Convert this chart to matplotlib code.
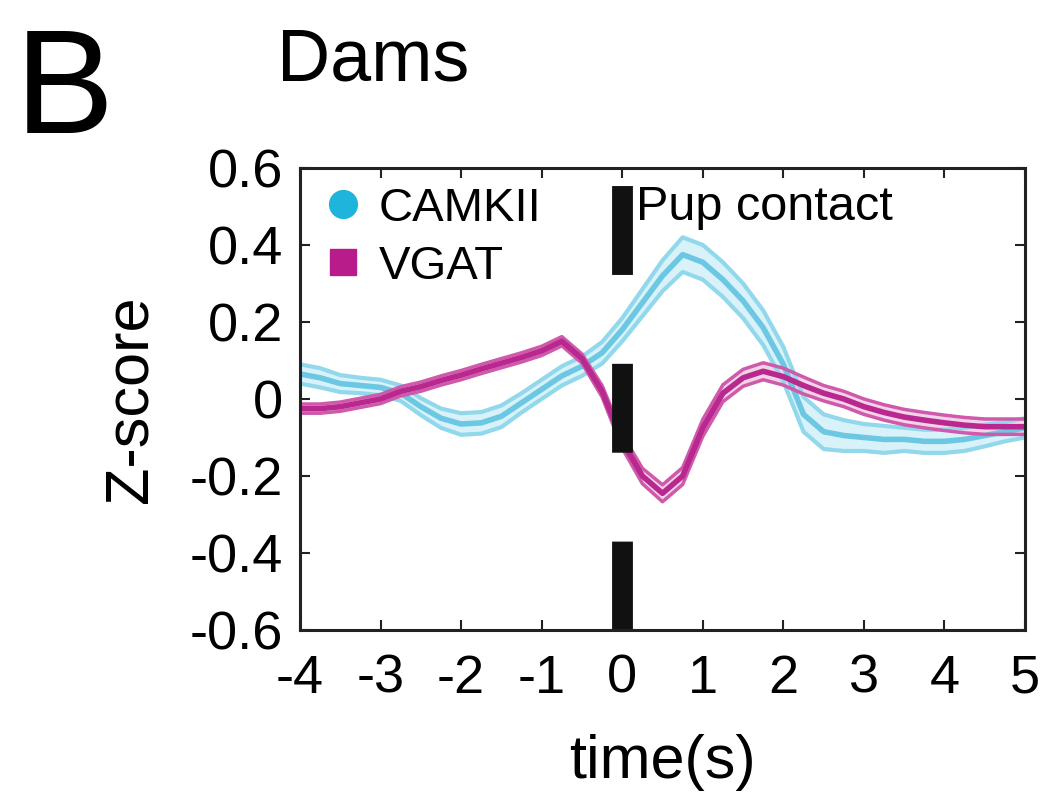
import numpy as np
import matplotlib
matplotlib.use("Agg")
import matplotlib.pyplot as plt
from matplotlib.lines import Line2D

plt.rcParams['font.family'] = ['Liberation Sans', 'DejaVu Sans']
plt.rcParams['axes.unicode_minus'] = False
plt.rcParams['lines.scale_dashes'] = False

# tiempo (s) relativo al contacto con la cria
t = np.array([-4.00, -3.75, -3.50, -3.25, -3.00, -2.75, -2.50, -2.25, -2.00,
              -1.75, -1.50, -1.25, -1.00, -0.75, -0.50, -0.25, 0.00, 0.25,
              0.50, 0.75, 1.00, 1.25, 1.50, 1.75, 2.00, 2.25, 2.50, 2.75,
              3.00, 3.25, 3.50, 3.75, 4.00, 4.25, 4.50, 4.75, 5.00])

# CAMKII: media y error estandar
camkii_mean = np.array([0.065, 0.055, 0.040, 0.035, 0.030, 0.015, -0.020, -0.050,
                        -0.065, -0.062, -0.045, -0.010, 0.025, 0.060, 0.085, 0.120,
                        0.180, 0.250, 0.320, 0.375, 0.355, 0.310, 0.255, 0.185,
                        0.090, -0.040, -0.085, -0.095, -0.100, -0.105, -0.105,
                        -0.110, -0.110, -0.105, -0.095, -0.085, -0.075])
camkii_sem = np.array([0.025, 0.025, 0.022, 0.020, 0.020, 0.020, 0.022, 0.025,
                       0.028, 0.028, 0.028, 0.025, 0.025, 0.025, 0.025, 0.028,
                       0.030, 0.035, 0.040, 0.045, 0.045, 0.045, 0.045, 0.045,
                       0.045, 0.045, 0.045, 0.040, 0.035, 0.035, 0.030, 0.030,
                       0.030, 0.030, 0.028, 0.025, 0.025])

# VGAT: media y error estandar
vgat_mean = np.array([-0.025, -0.025, -0.020, -0.010, 0.000, 0.020, 0.032, 0.048,
                      0.062, 0.078, 0.093, 0.108, 0.125, 0.150, 0.105, 0.020,
                      -0.110, -0.200, -0.245, -0.200, -0.075, 0.015, 0.055, 0.072,
                      0.058, 0.035, 0.015, 0.000, -0.020, -0.035, -0.047, -0.055,
                      -0.062, -0.068, -0.072, -0.072, -0.072])
vgat_sem = np.array([0.012, 0.012, 0.012, 0.012, 0.012, 0.012, 0.012, 0.012,
                     0.012, 0.012, 0.012, 0.012, 0.012, 0.012, 0.012, 0.015,
                     0.018, 0.020, 0.022, 0.022, 0.022, 0.022, 0.022, 0.022,
                     0.022, 0.022, 0.020, 0.020, 0.020, 0.020, 0.020, 0.020,
                     0.020, 0.020, 0.020, 0.020, 0.020])

xticks = [-4, -3, -2, -1, 0, 1, 2, 3, 4, 5]
yticks = [0.6, 0.4, 0.2, 0, -0.2, -0.4, -0.6]
ytick_labels = ['0.6', '0.4', '0.2', '0', '-0.2', '-0.4', '-0.6']

c_cam = '#6cc8e2'
c_cam_band = '#92d8ec'
c_cam_mark = '#1fb4dc'
c_vg = '#b8288f'
c_vg_band = '#cf5aab'
c_vg_mark = '#b81c8a'

fig = plt.figure(figsize=(10.45, 8.01), dpi=100)
ax = fig.add_axes([0.2871, 0.2135, 0.6938, 0.5768])

# bandas de error (SEM) y media
ax.fill_between(t, camkii_mean - camkii_sem, camkii_mean + camkii_sem,
                color='#d9f2f9', lw=0)
ax.plot(t, camkii_mean + camkii_sem, color=c_cam_band, lw=3)
ax.plot(t, camkii_mean - camkii_sem, color=c_cam_band, lw=3)
ax.plot(t, camkii_mean, color=c_cam, lw=4)

ax.fill_between(t, vgat_mean - vgat_sem, vgat_mean + vgat_sem,
                color='#f2d3e8', lw=0)
ax.plot(t, vgat_mean + vgat_sem, color=c_vg_band, lw=2.5)
ax.plot(t, vgat_mean - vgat_sem, color=c_vg_band, lw=2.5)
ax.plot(t, vgat_mean, color=c_vg, lw=4)

# linea de contacto
ax.plot([0, 0], [-0.6, 0.6], color='#111111', lw=15, dashes=(64, 64),
        solid_capstyle='butt', dash_capstyle='butt')
ax.text(0.17, 0.465, 'Pup contact', fontsize=35, va='baseline', ha='left')

handles = [Line2D([], [], ls='none', marker='o', ms=20, color=c_cam_mark,
                  mec=c_cam_mark),
           Line2D([], [], ls='none', marker='s', ms=19, color=c_vg_mark,
                  mec=c_vg_mark)]
ax.legend(handles, ['CAMKII', 'VGAT'], loc='upper left', frameon=False,
          fontsize=34, handlelength=0.6, handletextpad=0.45,
          labelspacing=0.3, borderaxespad=0.0,
          bbox_to_anchor=(0.014, 1.0))

ax.set_xlim(-4, 5)
ax.set_ylim(-0.6, 0.6)
ax.set_xticks(xticks)
ax.set_xticklabels([str(v) for v in xticks])
ax.set_yticks(yticks)
ax.set_yticklabels(ytick_labels)
ax.tick_params(direction='in', length=7, width=1.5, labelsize=39,
               top=True, right=True, pad=12, color='#222222')
ax.tick_params(axis='x', pad=17)
for s in ax.spines.values():
    s.set_linewidth(2.2)
    s.set_color('#222222')

ax.set_xlabel('time(s)', fontsize=44, labelpad=22)
ax.set_ylabel('Z-score', fontsize=44, labelpad=22)

fig.text(0.014, 0.834, 'B', fontsize=107, va='baseline', ha='left')
fig.text(0.265, 0.90, 'Dams', fontsize=53, va='baseline', ha='left')

fig.savefig('out.png', dpi=100)
